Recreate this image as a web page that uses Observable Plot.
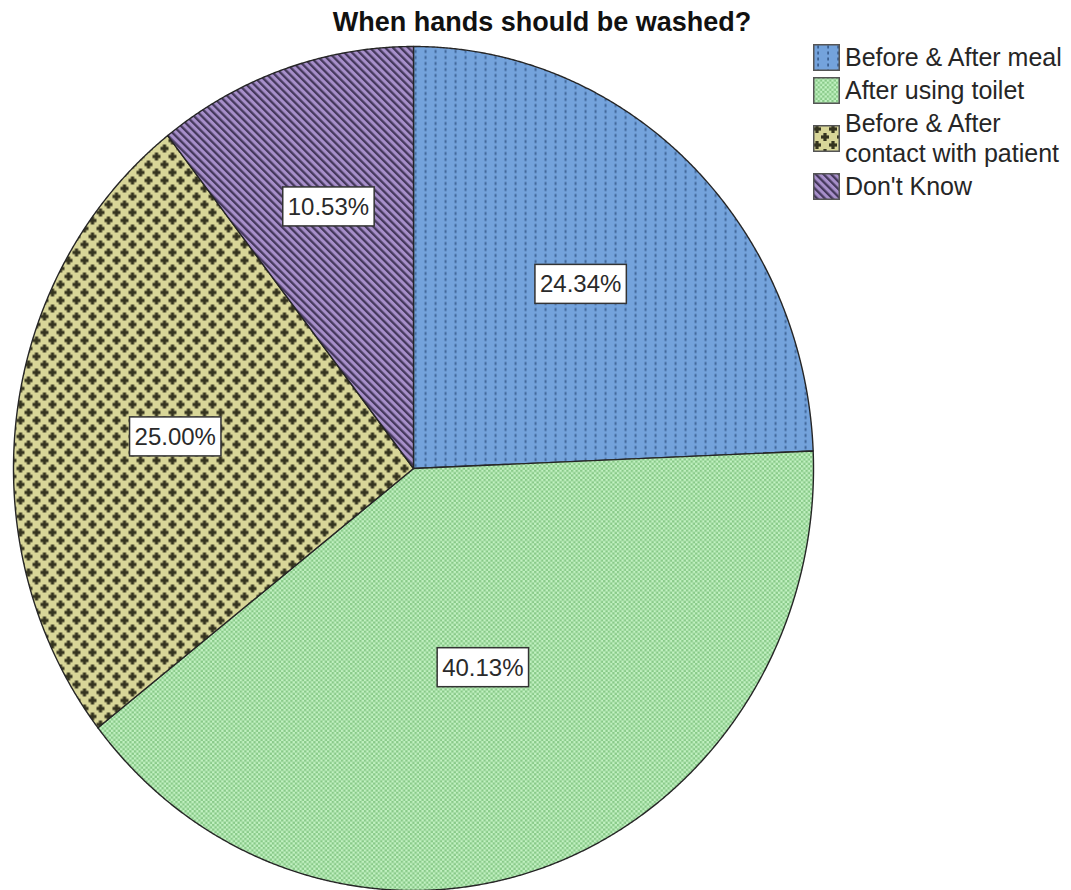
<!DOCTYPE html>
<html>
<head>
<meta charset="utf-8">
<script src="https://cdn.jsdelivr.net/npm/d3@7"></script>
<script src="https://cdn.jsdelivr.net/npm/@observablehq/plot@0.6"></script>
<style>
html,body{margin:0;padding:0;background:#fff;}
#wrap{position:relative;width:1071px;height:890px;font-family:"Liberation Sans",Arial,sans-serif;overflow:hidden;}
#wrap svg.plot{position:absolute;left:0;top:0;}
#title{position:absolute;left:0;top:9px;width:1084px;text-align:center;font-weight:bold;font-size:27px;line-height:27px;color:#111;transform:scaleY(1.05);}
#legend{position:absolute;left:813px;top:42px;display:flex;flex-direction:column;gap:3px;}
.item{display:flex;align-items:center;gap:5px;font-size:25px;line-height:30px;color:#262626;white-space:pre;}
.item svg{flex:none;display:block;}
</style>
</head>
<body>
<div id="wrap">
  <div id="title">When hands should be washed?</div>
  <div id="legend"></div>
</div>
<script>
// ---- data ----
const title = "When hands should be washed?";
const categories = ["Before & After meal", "After using toilet", "Before & After contact with patient", "Don't Know"];
const legendLabels = ["Before & After meal", "After using toilet", "Before & After\ncontact with patient", "Don't Know"];
const percents = [24.34, 40.13, 25.00, 10.53];
const patternIds = ["pat-meal", "pat-toilet", "pat-patient", "pat-dontknow"];

// ---- slice geometry in unit (data) space, clockwise from 12 o'clock ----
const slicePoints = [];
const labelData = [];
let cum = 0;
categories.forEach((cat, i) => {
  const a0 = cum / 100 * 2 * Math.PI;
  cum += percents[i];
  const a1 = cum / 100 * 2 * Math.PI;
  slicePoints.push({category: cat, x: 0, y: 0});
  const n = Math.max(2, Math.ceil((a1 - a0) / 0.004));
  for (let k = 0; k <= n; k++) {
    const a = a0 + (a1 - a0) * k / n;
    slicePoints.push({category: cat, x: Math.sin(a), y: Math.cos(a)});
  }
  const m = (a0 + a1) / 2, half = (a1 - a0) / 2;
  const d = 2 * Math.sin(half) / (3 * half); // sector centroid
  labelData.push({category: cat, x: d * Math.sin(m), y: d * Math.cos(m), text: percents[i].toFixed(2) + "%"});
});

const chart = Plot.plot({
  width: 1071,
  height: 890,
  margin: 0,
  x: {domain: [-1, 1], range: [13, 813], axis: null},
  y: {domain: [-1, 1], range: [890, 46], axis: null},
  color: {domain: categories, range: patternIds.map(id => `url(#${id})`)},
  style: {background: "transparent", fontFamily: "'Liberation Sans', Arial, sans-serif"},
  marks: [
    Plot.line(slicePoints, {x: "x", y: "y", z: "category", fill: "category", stroke: "#262626", strokeWidth: 1.4, curve: "linear-closed"}),
    Plot.text(labelData, {x: "x", y: "y", text: "text", fontSize: 24, fill: "#2a2a2a", className: "pct-label"})
  ]
});

const wrap = document.getElementById("wrap");
wrap.insertBefore(chart, wrap.firstChild);

// ---- patterns ----
const defs = d3.select(chart).insert("defs", ":first-child");
function pat(id, w, h, transform) {
  const p = defs.append("pattern").attr("id", id).attr("patternUnits", "userSpaceOnUse").attr("width", w).attr("height", h);
  if (transform) p.attr("patternTransform", transform);
  return p;
}
// blue with dotted vertical dashes
let p = pat("pat-meal", 10, 6);
p.append("rect").attr("width", 10).attr("height", 6).attr("fill", "#74a3dc");
p.append("rect").attr("x", 4.2).attr("y", 1.5).attr("width", 1.8).attr("height", 3).attr("fill", "#3c6193");
// green checker
p = pat("pat-toilet", 4.6, 4.6);
p.append("rect").attr("width", 4.6).attr("height", 4.6).attr("fill", "#c2f2c2");
p.append("rect").attr("x", 0).attr("y", 0).attr("width", 2.3).attr("height", 2.3).attr("fill", "#88c988");
p.append("rect").attr("x", 2.3).attr("y", 2.3).attr("width", 2.3).attr("height", 2.3).attr("fill", "#88c988");
// olive with crosses
p = pat("pat-patient", 16, 16);
p.append("rect").attr("width", 16).attr("height", 16).attr("fill", "#d8d698");
[[4, 4], [12, 12]].forEach(([cx, cy]) => {
  p.append("rect").attr("x", cx - 4).attr("y", cy - 1.6).attr("width", 8).attr("height", 3.2).attr("fill", "#35341f");
  p.append("rect").attr("x", cx - 1.6).attr("y", cy - 4).attr("width", 3.2).attr("height", 8).attr("fill", "#35341f");
});
// purple diagonal stripes "\"
p = pat("pat-dontknow", 5.4, 5.4, "rotate(-45)");
p.append("rect").attr("width", 5.4).attr("height", 5.4).attr("fill", "#a78fca");
p.append("rect").attr("x", 0).attr("width", 2.3).attr("height", 5.4).attr("fill", "#45385c");

// ---- label boxes ----
d3.select(chart).selectAll("g.pct-label text").each(function () {
  const b = this.getBBox();
  const padX = 5, padY = 7;
  const r = d3.select(this.parentNode).insert("rect", () => this)
    .attr("x", b.x - padX).attr("y", b.y - padY + 1)
    .attr("width", b.width + 2 * padX).attr("height", b.height + 2 * padY - 2)
    .attr("fill", "#fff").attr("stroke", "#333").attr("stroke-width", 1.5);
  const t = this.getAttribute("transform");
  if (t) r.attr("transform", t);
});

// ---- legend ----
const legend = d3.select("#legend");
categories.forEach((cat, i) => {
  const item = legend.append("div").attr("class", "item");
  const s = item.append("svg").attr("width", 27).attr("height", 27);
  s.append("rect").attr("x", 0.75).attr("y", 0.75).attr("width", 25.5).attr("height", 25.5)
    .attr("fill", `url(#${patternIds[i]})`).attr("stroke", "#555").attr("stroke-width", 1.5);
  item.append("span").text(legendLabels[i]);
});
</script>
</body>
</html>
